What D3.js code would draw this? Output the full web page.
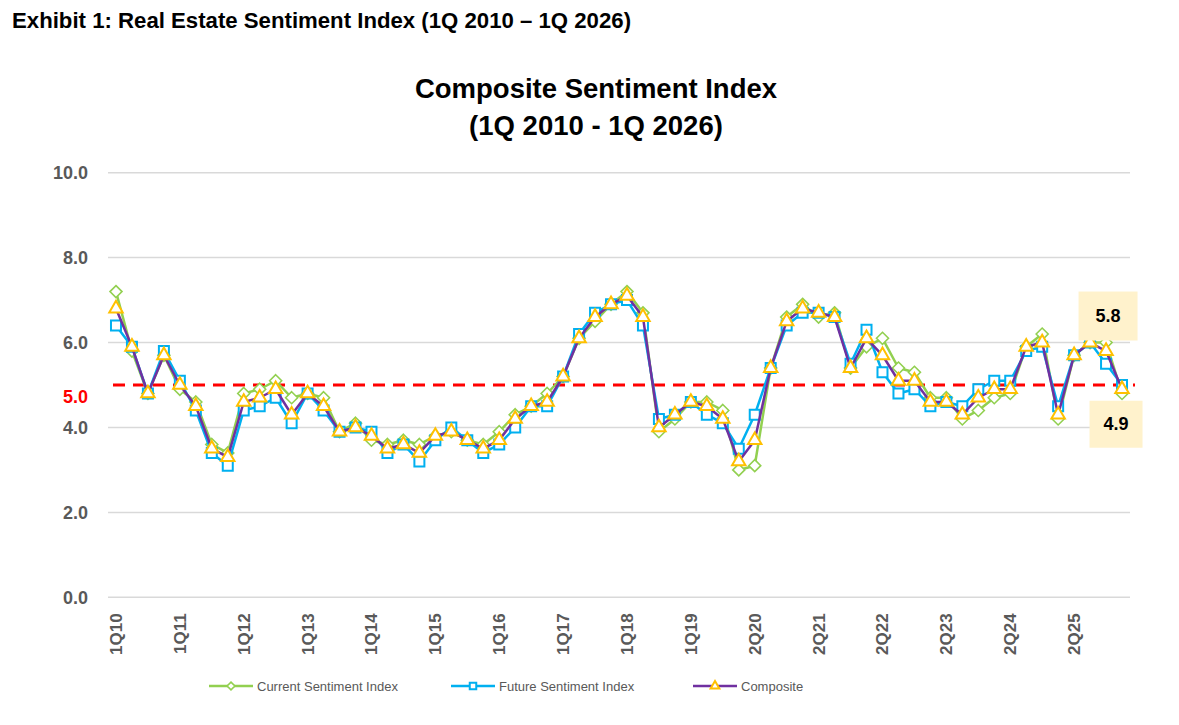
<!DOCTYPE html>
<meta charset="utf-8">
<script src="https://d3js.org/d3.v7.min.js"></script>
<style>
  body { margin: 0; background: #fff; }
  text { font-family: "Liberation Sans", Arial, sans-serif; }
</style>
<div id="chart"></div>
<script>
  // quarters shown on the category axis (1Q20 is not in the series)
  const categories = [
    "1Q10", "2Q10", "3Q10", "4Q10", "1Q11", "2Q11", "3Q11", "4Q11",
    "1Q12", "2Q12", "3Q12", "4Q12", "1Q13", "2Q13", "3Q13", "4Q13",
    "1Q14", "2Q14", "3Q14", "4Q14", "1Q15", "2Q15", "3Q15", "4Q15",
    "1Q16", "2Q16", "3Q16", "4Q16", "1Q17", "2Q17", "3Q17", "4Q17",
    "1Q18", "2Q18", "3Q18", "4Q18", "1Q19", "2Q19", "3Q19", "4Q19",
    "2Q20", "3Q20", "4Q20", "1Q21", "2Q21", "3Q21", "4Q21", "1Q22",
    "2Q22", "3Q22", "4Q22", "1Q23", "2Q23", "3Q23", "4Q23", "1Q24",
    "2Q24", "3Q24", "4Q24", "1Q25", "2Q25", "3Q25", "4Q25", "1Q26"
  ];

  const tickLabels = ["1Q10", "1Q11", "1Q12", "1Q13", "1Q14", "1Q15", "1Q16", "1Q17",
    "1Q18", "1Q19", "2Q20", "2Q21", "2Q22", "2Q23", "2Q24", "2Q25"];

  const currentIndex = [
    7.2, 5.8, 4.8, 5.7, 4.9, 4.6, 3.6, 3.4,
    4.8, 4.9, 5.1, 4.7, 4.8, 4.7, 3.9, 4.1,
    3.7, 3.6, 3.7, 3.6, 3.8, 3.9, 3.7, 3.6,
    3.9, 4.3, 4.5, 4.8, 5.2, 6.1, 6.5, 6.9,
    7.2, 6.7, 3.9, 4.2, 4.6, 4.6, 4.4, 3.0,
    3.1, 5.4, 6.6, 6.9, 6.6, 6.7, 5.4, 5.9,
    6.1, 5.4, 5.3, 4.7, 4.7, 4.2, 4.4, 4.7,
    4.8, 5.9, 6.2, 4.2, 5.7, 6.0, 6.0, 4.8
  ];

  const futureIndex = [
    6.4, 5.9, 4.8, 5.8, 5.1, 4.4, 3.4, 3.1,
    4.4, 4.5, 4.7, 4.1, 4.8, 4.4, 3.9, 4.0,
    3.9, 3.4, 3.6, 3.2, 3.7, 4.0, 3.7, 3.4,
    3.6, 4.0, 4.5, 4.5, 5.2, 6.2, 6.7, 6.9,
    7.0, 6.4, 4.2, 4.3, 4.6, 4.3, 4.1, 3.5,
    4.3, 5.4, 6.4, 6.7, 6.7, 6.6, 5.5, 6.3,
    5.3, 4.8, 4.9, 4.5, 4.6, 4.5, 4.9, 5.1,
    5.1, 5.8, 5.9, 4.5, 5.7, 6.0, 5.5, 5.0
  ];

  const compositeIndex = [
    6.8, 5.9, 4.8, 5.7, 5.0, 4.5, 3.5, 3.3,
    4.6, 4.7, 4.9, 4.3, 4.8, 4.5, 3.9, 4.0,
    3.8, 3.5, 3.6, 3.4, 3.8, 3.9, 3.7, 3.5,
    3.7, 4.2, 4.5, 4.6, 5.2, 6.1, 6.6, 6.9,
    7.1, 6.6, 4.0, 4.3, 4.6, 4.5, 4.2, 3.2,
    3.7, 5.4, 6.5, 6.8, 6.7, 6.6, 5.4, 6.1,
    5.7, 5.1, 5.1, 4.6, 4.6, 4.3, 4.7, 4.9,
    4.9, 5.9, 6.0, 4.3, 5.7, 6.0, 5.8, 4.9
  ];

  const yTicks = [0, 2, 4, 6, 8, 10];
  const threshold = 5.0;

  // labels in the yellow boxes on the last two quarters
  const callouts = [
    { cat: "4Q25", value: 5.8, dx: 2, dy: -35, w: 59, h: 49 },
    { cat: "1Q26", value: 4.9, dx: -6, dy: 35, w: 53, h: 47 }
  ];

  const width = 1179, height = 725;
  const plotLeft = 108, plotRight = 1130, plotTop = 172.7, plotBottom = 597.3;

  const svg = d3.select("#chart")
    .append("svg")
    .attr("width", width)
    .attr("height", height);

  const x = d3.scalePoint()
    .domain(categories)
    .range([plotLeft, plotRight])
    .padding(0.5);

  const y = d3.scaleLinear()
    .domain([0, 10])
    .range([plotBottom, plotTop]);

  // headings
  svg.append("text")
    .attr("x", 12).attr("y", 28)
    .attr("font-size", "22.2px").attr("font-weight", "bold")
    .attr("fill", "#000")
    .text("Exhibit 1: Real Estate Sentiment Index (1Q 2010 \u2013 1Q 2026)");

  svg.append("text")
    .attr("x", 596).attr("y", 98)
    .attr("text-anchor", "middle")
    .attr("font-size", "27.5px").attr("font-weight", "bold")
    .text("Composite Sentiment Index");

  svg.append("text")
    .attr("x", 596).attr("y", 135)
    .attr("text-anchor", "middle")
    .attr("font-size", "27.5px").attr("font-weight", "bold")
    .text("(1Q 2010 - 1Q 2026)");

  // gridlines
  svg.append("g")
    .selectAll("line")
    .data(yTicks)
    .join("line")
    .attr("x1", plotLeft).attr("x2", plotRight)
    .attr("y1", d => y(d)).attr("y2", d => y(d))
    .attr("stroke", "#d9d9d9")
    .attr("stroke-width", 1.5);

  // y axis labels
  const yAxis = svg.append("g")
    .attr("transform", `translate(${plotLeft - 20},0)`)
    .call(d3.axisLeft(y).tickValues(yTicks).tickFormat(d3.format(".1f")).tickSize(0));
  yAxis.select(".domain").remove();
  yAxis.selectAll("text")
    .attr("font-size", "18px").attr("font-weight", "bold")
    .attr("fill", "#595959")
    .attr("font-family", "Liberation Sans, Arial, sans-serif")
    .attr("x", 0);

  svg.append("text")
    .attr("x", plotLeft - 20).attr("y", y(threshold) + 12)
    .attr("text-anchor", "end")
    .attr("dominant-baseline", "central")
    .attr("font-size", "18px").attr("font-weight", "bold")
    .attr("fill", "#ff0000")
    .text(d3.format(".1f")(threshold));

  // x axis labels, rotated
  const xAxis = svg.append("g")
    .attr("transform", `translate(0,${plotBottom + 16})`)
    .call(d3.axisBottom(x).tickValues(tickLabels).tickSize(0));
  xAxis.select(".domain").remove();
  xAxis.selectAll("text")
    .attr("font-size", "17px").attr("font-weight", "bold")
    .attr("fill", "#595959")
    .attr("font-family", "Liberation Sans, Arial, sans-serif")
    .attr("text-anchor", "end")
    .attr("dy", null)
    .attr("dominant-baseline", "central")
    .attr("y", 0)
    .attr("transform", "rotate(-90)");

  // 5.0 reference line
  svg.append("line")
    .attr("x1", 113).attr("x2", 1135)
    .attr("y1", y(threshold)).attr("y2", y(threshold))
    .attr("stroke", "#ff0000")
    .attr("stroke-width", 3)
    .attr("stroke-dasharray", "12 8");

  // marker shapes
  const diamond = "M0,-6L6,0L0,6L-6,0Z";
  const square = d3.symbol().type(d3.symbolSquare).size(100)();
  const triangle = d3.symbol().type(d3.symbolTriangle).size(78)();

  const series = [
    { name: "Current Sentiment Index", values: currentIndex, line: "#92d050", marker: "#92d050", shape: diamond, mw: 1.6 },
    { name: "Future Sentiment Index", values: futureIndex, line: "#00b0f0", marker: "#00b0f0", shape: square, mw: 2 },
    { name: "Composite", values: compositeIndex, line: "#7030a0", marker: "#ffc000", shape: triangle, mw: 2 }
  ];

  const lineGen = d3.line()
    .x((d, i) => x(categories[i]))
    .y(d => y(d));

  series.forEach(s => {
    svg.append("path")
      .datum(s.values)
      .attr("fill", "none")
      .attr("stroke", s.line)
      .attr("stroke-width", 2.5)
      .attr("stroke-linejoin", "round")
      .attr("d", lineGen);

    svg.append("g")
      .selectAll("path")
      .data(s.values)
      .join("path")
      .attr("d", s.shape)
      .attr("transform", (d, i) => `translate(${x(categories[i])},${y(d)})`)
      .attr("fill", "#fff")
      .attr("stroke", s.marker)
      .attr("stroke-width", s.mw);
  });

  // callout boxes
  callouts.forEach(c => {
    const cx = x(c.cat) + c.dx, cy = y(c.value) + c.dy;
    svg.append("rect")
      .attr("x", cx - c.w / 2).attr("y", cy - c.h / 2)
      .attr("width", c.w).attr("height", c.h)
      .attr("fill", "#fff2cc");
    svg.append("text")
      .attr("x", cx).attr("y", cy)
      .attr("text-anchor", "middle")
      .attr("dominant-baseline", "central")
      .attr("font-size", "18px").attr("font-weight", "bold")
      .attr("fill", "#000")
      .text(d3.format(".1f")(c.value));
  });

  // legend
  const legendX = [209, 451, 693];
  const legend = svg.append("g")
    .selectAll("g")
    .data(series)
    .join("g")
    .attr("transform", (d, i) => `translate(${legendX[i]},686)`);

  legend.append("line")
    .attr("x1", 0).attr("x2", 44)
    .attr("stroke", d => d.line)
    .attr("stroke-width", 2.5);

  legend.append("path")
    .attr("d", d => d.shape)
    .attr("transform", "translate(22,0) scale(0.65)")
    .attr("fill", "#fff")
    .attr("stroke", d => d.marker)
    .attr("stroke-width", d => d.mw / 0.65);

  legend.append("text")
    .attr("x", 48)
    .attr("dominant-baseline", "central")
    .attr("font-size", "13px")
    .attr("fill", "#595959")
    .text(d => d.name);
</script>
